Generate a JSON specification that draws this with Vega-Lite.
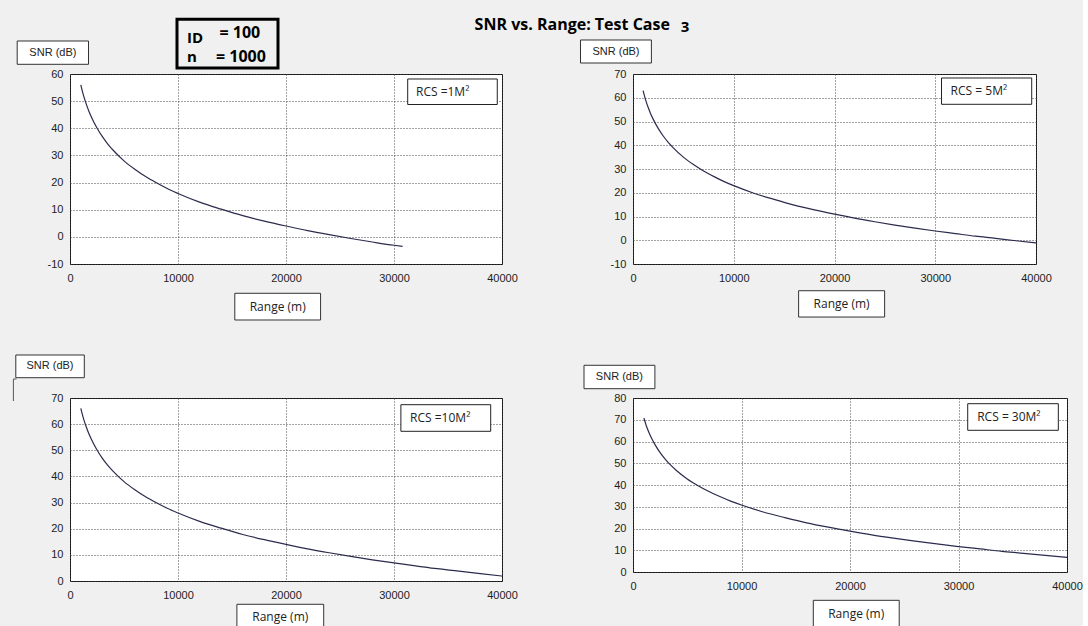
{
  "$schema": "https://vega.github.io/schema/vega-lite/v6.json",
  "background": "#f0f0f0",
  "padding": {"left": 12, "top": 16, "right": 0, "bottom": 0},
  "columns": 2,
  "bounds": "flush",
  "spacing": {"row": 134, "column": 131},
  "config": {
    "locale": {"number": {"decimal": ".", "thousands": ",", "grouping": [3], "currency": ["$", ""], "minus": "-"}},
    "view": {"fill": "white", "stroke": "#111", "strokeWidth": 1},
    "axis": {
      "grid": true,
      "gridColor": "#444",
      "gridDash": [1, 2],
      "gridWidth": 1,
      "domain": false,
      "ticks": false,
      "labelFont": "Liberation Sans",
      "labelFontSize": 11,
      "labelColor": "#222",
      "labelFlush": false,
      "labelOverlap": false
    },
    "axisX": {"labelPadding": 8, "tickCount": 4},
    "axisY": {"labelPadding": 7, "tickCount": 8}
  },
  "concat": [
    {
      "width": 432,
      "height": 190,
      "layer": [
        {
          "data": {"values": [
            {"range": 1000, "snr": 56.0}, {"range": 1250, "snr": 52.1}, {"range": 1500, "snr": 49.0},
            {"range": 1750, "snr": 46.3}, {"range": 2000, "snr": 44.0}, {"range": 2500, "snr": 40.1},
            {"range": 3000, "snr": 36.9}, {"range": 3500, "snr": 34.2}, {"range": 4000, "snr": 31.9},
            {"range": 5000, "snr": 28.0}, {"range": 6000, "snr": 24.9}, {"range": 7000, "snr": 22.2},
            {"range": 8000, "snr": 19.9}, {"range": 9000, "snr": 17.8}, {"range": 10000, "snr": 16.0},
            {"range": 12000, "snr": 12.8}, {"range": 14000, "snr": 10.2}, {"range": 16000, "snr": 7.8},
            {"range": 18000, "snr": 5.8}, {"range": 20000, "snr": 4.0}, {"range": 22000, "snr": 2.3},
            {"range": 24000, "snr": 0.8}, {"range": 26000, "snr": -0.6}, {"range": 28000, "snr": -1.9},
            {"range": 30000, "snr": -3.1}, {"range": 30800, "snr": -3.5}
          ]},
          "mark": {"type": "line", "interpolate": "monotone", "color": "#2b2b4d", "strokeWidth": 1.2},
          "encoding": {
            "x": {"field": "range", "type": "quantitative",
                  "scale": {"domain": [0, 40000], "nice": false, "zero": false},
                  "axis": {"format": "d", "title": null}},
            "y": {"field": "snr", "type": "quantitative",
                  "scale": {"domain": [-10, 60], "nice": false, "zero": false},
                  "axis": {"format": "d", "title": null}}
          }
        },
        {
          "data": {"values": [{"snrLabel": "SNR (dB)", "rangeLabel": "Range (m)", "rcs": "RCS =1M²", "title": "SNR vs. Range: Test Case", "case": "3", "idKey": "ID", "idVal": "= 100", "nKey": "n", "nVal": "= 1000"}]},
          "layer": [
            {"mark": {"type": "rect", "fill": "white", "stroke": "#333", "strokeWidth": 1},
             "encoding": {"x": {"datum": -4889}, "x2": {"datum": 1713}, "y": {"datum": 72.16}, "y2": {"datum": 63.57}}},
            {"mark": {"type": "text", "font": "Liberation Sans", "fontSize": 11, "color": "#222"},
             "encoding": {"x": {"datum": -1583}, "y": {"datum": 67.85}, "text": {"field": "snrLabel"}}},
            {"mark": {"type": "rect", "fill": "white", "stroke": "#333", "strokeWidth": 1},
             "encoding": {"x": {"datum": 15259}, "x2": {"datum": 23203}, "y": {"datum": -20.79}, "y2": {"datum": -30.63}}},
            {"mark": {"type": "text", "font": "Open Sans", "fontSize": 12, "color": "#222"},
             "encoding": {"x": {"datum": 19231}, "y": {"datum": -25.73}, "text": {"field": "rangeLabel"}}},
            {"mark": {"type": "rect", "fill": "white", "stroke": "#222", "strokeWidth": 1},
             "encoding": {"x": {"datum": 31268}, "x2": {"datum": 39563}, "y": {"datum": 58.16}, "y2": {"datum": 48.76}}},
            {"mark": {"type": "text", "font": "Open Sans", "fontSize": 12, "color": "#222", "align": "left"},
             "encoding": {"x": {"datum": 32036}, "y": {"datum": 53.48}, "text": {"field": "rcs"}}},
            {"mark": {"type": "rect", "fill": "#f0f0f0", "stroke": "#000", "strokeWidth": 3},
             "encoding": {"x": {"datum": 9907}, "x2": {"datum": 19259}, "y": {"datum": 80.15}, "y2": {"datum": 62.21}}},
            {"mark": {"type": "text", "font": "Open Sans", "fontSize": 15, "fontWeight": "bold", "color": "#000", "align": "left", "baseline": "alphabetic"},
             "encoding": {"x": {"datum": 10833}, "y": {"datum": 71.4}, "text": {"field": "idKey"}}},
            {"mark": {"type": "text", "font": "Open Sans", "fontSize": 16, "fontWeight": "bold", "color": "#000", "align": "left", "baseline": "alphabetic"},
             "encoding": {"x": {"datum": 13838}, "y": {"datum": 73.37}, "text": {"field": "idVal"}}},
            {"mark": {"type": "text", "font": "Open Sans", "fontSize": 15, "fontWeight": "bold", "color": "#000", "align": "left", "baseline": "alphabetic"},
             "encoding": {"x": {"datum": 10833}, "y": {"datum": 64.53}, "text": {"field": "nKey"}}},
            {"mark": {"type": "text", "font": "Open Sans", "fontSize": 16, "fontWeight": "bold", "color": "#000", "align": "left", "baseline": "alphabetic"},
             "encoding": {"x": {"datum": 13518}, "y": {"datum": 64.53}, "text": {"field": "nVal"}}},
            {"mark": {"type": "text", "font": "Open Sans", "fontSize": 16, "fontWeight": "bold", "color": "#000", "align": "left", "baseline": "alphabetic"},
             "encoding": {"x": {"datum": 37462}, "y": {"datum": 76.21}, "text": {"field": "title"}}},
            {"mark": {"type": "text", "font": "Open Sans", "fontSize": 15, "fontWeight": "bold", "color": "#000", "align": "left", "baseline": "alphabetic"},
             "encoding": {"x": {"datum": 56550}, "y": {"datum": 75.58}, "text": {"field": "case"}}}
          ]
        }
      ]
    },
    {
      "width": 403,
      "height": 190,
      "layer": [
        {
          "data": {"values": [
            {"range": 1000, "snr": 63.0}, {"range": 1250, "snr": 59.1}, {"range": 1500, "snr": 56.0},
            {"range": 1750, "snr": 53.3}, {"range": 2000, "snr": 51.0}, {"range": 2500, "snr": 47.1},
            {"range": 3000, "snr": 43.9}, {"range": 3500, "snr": 41.2}, {"range": 4000, "snr": 38.9},
            {"range": 5000, "snr": 35.0}, {"range": 6000, "snr": 31.9}, {"range": 7000, "snr": 29.2},
            {"range": 8000, "snr": 26.9}, {"range": 9000, "snr": 24.8}, {"range": 10000, "snr": 23.0},
            {"range": 12000, "snr": 19.8}, {"range": 14000, "snr": 17.2}, {"range": 16000, "snr": 14.8},
            {"range": 18000, "snr": 12.8}, {"range": 20000, "snr": 11.0}, {"range": 22000, "snr": 9.3},
            {"range": 24000, "snr": 7.8}, {"range": 26000, "snr": 6.4}, {"range": 28000, "snr": 5.1},
            {"range": 30000, "snr": 3.9}, {"range": 32000, "snr": 2.8}, {"range": 34000, "snr": 1.7},
            {"range": 36000, "snr": 0.8}, {"range": 38000, "snr": -0.2}, {"range": 40000, "snr": -1.1}
          ]},
          "mark": {"type": "line", "interpolate": "monotone", "color": "#2b2b4d", "strokeWidth": 1.2},
          "encoding": {
            "x": {"field": "range", "type": "quantitative",
                  "scale": {"domain": [0, 40000], "nice": false, "zero": false},
                  "axis": {"format": "d", "title": null}},
            "y": {"field": "snr", "type": "quantitative",
                  "scale": {"domain": [-10, 70], "nice": false, "zero": false},
                  "axis": {"format": "d", "title": null}}
          }
        },
        {
          "data": {"values": [{"snrLabel": "SNR (dB)", "rangeLabel": "Range (m)", "rcs": "RCS = 5M²"}]},
          "layer": [
            {"mark": {"type": "rect", "fill": "white", "stroke": "#333", "strokeWidth": 1},
             "encoding": {"x": {"datum": -5211}, "x2": {"datum": 1826}, "y": {"datum": 84.32}, "y2": {"datum": 74.63}}},
            {"mark": {"type": "text", "font": "Liberation Sans", "fontSize": 11, "color": "#222"},
             "encoding": {"x": {"datum": -1687}, "y": {"datum": 79.47}, "text": {"field": "snrLabel"}}},
            {"mark": {"type": "rect", "fill": "white", "stroke": "#333", "strokeWidth": 1},
             "encoding": {"x": {"datum": 16438}, "x2": {"datum": 24974}, "y": {"datum": -21.25}, "y2": {"datum": -32.33}}},
            {"mark": {"type": "text", "font": "Open Sans", "fontSize": 12, "color": "#222"},
             "encoding": {"x": {"datum": 20706}, "y": {"datum": -26.85}, "text": {"field": "rangeLabel"}}},
            {"mark": {"type": "rect", "fill": "white", "stroke": "#222", "strokeWidth": 1},
             "encoding": {"x": {"datum": 30622}, "x2": {"datum": 39575}, "y": {"datum": 68.32}, "y2": {"datum": 57.24}}},
            {"mark": {"type": "text", "font": "Open Sans", "fontSize": 12, "color": "#222", "align": "left"},
             "encoding": {"x": {"datum": 31526}, "y": {"datum": 62.84}, "text": {"field": "rcs"}}}
          ]
        }
      ]
    },
    {
      "width": 432,
      "height": 183,
      "layer": [
        {
          "data": {"values": [
            {"range": 1000, "snr": 66.0}, {"range": 1250, "snr": 62.1}, {"range": 1500, "snr": 59.0},
            {"range": 1750, "snr": 56.3}, {"range": 2000, "snr": 54.0}, {"range": 2500, "snr": 50.1},
            {"range": 3000, "snr": 46.9}, {"range": 3500, "snr": 44.2}, {"range": 4000, "snr": 41.9},
            {"range": 5000, "snr": 38.0}, {"range": 6000, "snr": 34.9}, {"range": 7000, "snr": 32.2},
            {"range": 8000, "snr": 29.9}, {"range": 9000, "snr": 27.8}, {"range": 10000, "snr": 26.0},
            {"range": 12000, "snr": 22.8}, {"range": 14000, "snr": 20.2}, {"range": 16000, "snr": 17.8},
            {"range": 18000, "snr": 15.8}, {"range": 20000, "snr": 14.0}, {"range": 22000, "snr": 12.3},
            {"range": 24000, "snr": 10.8}, {"range": 26000, "snr": 9.4}, {"range": 28000, "snr": 8.1},
            {"range": 30000, "snr": 6.9}, {"range": 32000, "snr": 5.8}, {"range": 34000, "snr": 4.7},
            {"range": 36000, "snr": 3.8}, {"range": 38000, "snr": 2.8}, {"range": 40000, "snr": 1.9}
          ]},
          "mark": {"type": "line", "interpolate": "monotone", "color": "#2b2b4d", "strokeWidth": 1.2},
          "encoding": {
            "x": {"field": "range", "type": "quantitative",
                  "scale": {"domain": [0, 40000], "nice": false, "zero": false},
                  "axis": {"format": "d", "title": null}},
            "y": {"field": "snr", "type": "quantitative",
                  "scale": {"domain": [0, 70], "nice": false, "zero": false},
                  "axis": {"format": "d", "title": null}}
          }
        },
        {
          "data": {"values": [{"snrLabel": "SNR (dB)", "rangeLabel": "Range (m)", "rcs": "RCS =10M²"}]},
          "layer": [
            {"mark": {"type": "rect", "fill": "white", "stroke": "#333", "strokeWidth": 1},
             "encoding": {"x": {"datum": -5018}, "x2": {"datum": 1324}, "y": {"datum": 86.45}, "y2": {"datum": 77.76}}},
            {"mark": {"type": "text", "font": "Liberation Sans", "fontSize": 11, "color": "#222"},
             "encoding": {"x": {"datum": -1852}, "y": {"datum": 82.13}, "text": {"field": "snrLabel"}}},
            {"mark": {"type": "rule", "stroke": "#555", "strokeWidth": 1},
             "encoding": {"x": {"datum": -5241}, "y": {"datum": 77.27}, "y2": {"datum": 68.85}}},
            {"mark": {"type": "rule", "stroke": "#555", "strokeWidth": 1},
             "encoding": {"x": {"datum": -5241}, "x2": {"datum": -4954}, "y": {"datum": 77.27}}},
            {"mark": {"type": "rect", "fill": "white", "stroke": "#333", "strokeWidth": 1},
             "encoding": {"x": {"datum": 15453}, "x2": {"datum": 23490}, "y": {"datum": -8.91}, "y2": {"datum": -19.12}}},
            {"mark": {"type": "text", "font": "Open Sans", "fontSize": 12, "color": "#222"},
             "encoding": {"x": {"datum": 19471}, "y": {"datum": -13.77}, "text": {"field": "rangeLabel"}}},
            {"mark": {"type": "rect", "fill": "white", "stroke": "#222", "strokeWidth": 1},
             "encoding": {"x": {"datum": 30638}, "x2": {"datum": 38953}, "y": {"datum": 67.44}, "y2": {"datum": 57.26}}},
            {"mark": {"type": "text", "font": "Open Sans", "fontSize": 12, "color": "#222", "align": "left"},
             "encoding": {"x": {"datum": 31490}, "y": {"datum": 62.47}, "text": {"field": "rcs"}}}
          ]
        }
      ]
    },
    {
      "width": 434,
      "height": 174,
      "layer": [
        {
          "data": {"values": [
            {"range": 1000, "snr": 70.8}, {"range": 1250, "snr": 66.9}, {"range": 1500, "snr": 63.8},
            {"range": 1750, "snr": 61.1}, {"range": 2000, "snr": 58.8}, {"range": 2500, "snr": 54.9},
            {"range": 3000, "snr": 51.7}, {"range": 3500, "snr": 49.0}, {"range": 4000, "snr": 46.7},
            {"range": 5000, "snr": 42.8}, {"range": 6000, "snr": 39.7}, {"range": 7000, "snr": 37.0},
            {"range": 8000, "snr": 34.7}, {"range": 9000, "snr": 32.6}, {"range": 10000, "snr": 30.8},
            {"range": 12000, "snr": 27.6}, {"range": 14000, "snr": 25.0}, {"range": 16000, "snr": 22.6},
            {"range": 18000, "snr": 20.6}, {"range": 20000, "snr": 18.8}, {"range": 22000, "snr": 17.1},
            {"range": 24000, "snr": 15.6}, {"range": 26000, "snr": 14.2}, {"range": 28000, "snr": 12.9},
            {"range": 30000, "snr": 11.7}, {"range": 32000, "snr": 10.6}, {"range": 34000, "snr": 9.5},
            {"range": 36000, "snr": 8.6}, {"range": 38000, "snr": 7.6}, {"range": 40000, "snr": 6.7}
          ]},
          "mark": {"type": "line", "interpolate": "monotone", "color": "#2b2b4d", "strokeWidth": 1.2},
          "encoding": {
            "x": {"field": "range", "type": "quantitative",
                  "scale": {"domain": [0, 40000], "nice": false, "zero": false},
                  "axis": {"format": "d", "title": null}},
            "y": {"field": "snr", "type": "quantitative",
                  "scale": {"domain": [0, 80], "nice": false, "zero": false},
                  "axis": {"format": "d", "title": null}}
          }
        },
        {
          "data": {"values": [{"snrLabel": "SNR (dB)", "rangeLabel": "Range (m)", "rcs": "RCS = 30M²"}]},
          "layer": [
            {"mark": {"type": "rect", "fill": "white", "stroke": "#333", "strokeWidth": 1},
             "encoding": {"x": {"datum": -4516}, "x2": {"datum": 2019}, "y": {"datum": 95.04}, "y2": {"datum": 84.28}}},
            {"mark": {"type": "text", "font": "Liberation Sans", "fontSize": 11, "color": "#222"},
             "encoding": {"x": {"datum": -1253}, "y": {"datum": 89.66}, "text": {"field": "snrLabel"}}},
            {"mark": {"type": "rect", "fill": "white", "stroke": "#333", "strokeWidth": 1},
             "encoding": {"x": {"datum": 16618}, "x2": {"datum": 24536}, "y": {"datum": -13.02}, "y2": {"datum": -25.16}}},
            {"mark": {"type": "text", "font": "Open Sans", "fontSize": 12, "color": "#222"},
             "encoding": {"x": {"datum": 20572}, "y": {"datum": -19.09}, "text": {"field": "rangeLabel"}}},
            {"mark": {"type": "rect", "fill": "white", "stroke": "#222", "strokeWidth": 1},
             "encoding": {"x": {"datum": 30849}, "x2": {"datum": 39200}, "y": {"datum": 77.38}, "y2": {"datum": 65.15}}},
            {"mark": {"type": "text", "font": "Open Sans", "fontSize": 12, "color": "#222", "align": "left"},
             "encoding": {"x": {"datum": 31725}, "y": {"datum": 71.26}, "text": {"field": "rcs"}}}
          ]
        }
      ]
    }
  ]
}
